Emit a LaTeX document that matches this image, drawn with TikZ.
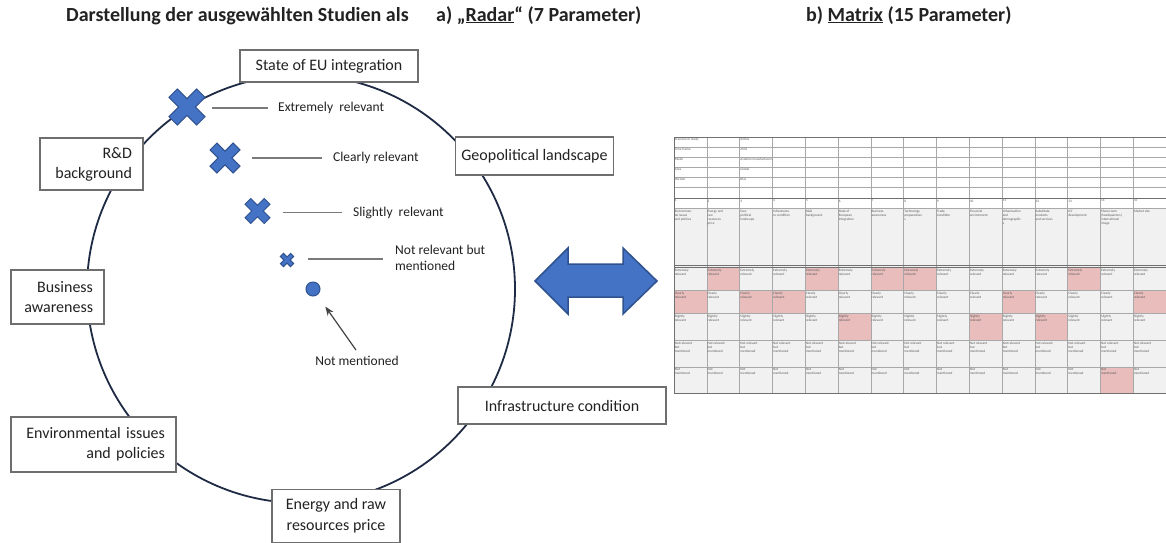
\documentclass[tikz,border=0pt]{standalone}
\usepackage{fontspec}
\setmainfont{Carlito}
\usetikzlibrary{arrows.meta,calc}
\definecolor{xblue}{HTML}{4472C4}
\definecolor{xedge}{HTML}{2F528F}
\definecolor{ring}{HTML}{1F2A44}
\definecolor{boxline}{HTML}{6E6E6E}
\definecolor{txt}{HTML}{222222}
\definecolor{cellpink}{HTML}{E8BDBC}
\definecolor{cellgray}{HTML}{F1F1F1}
\definecolor{gridline}{HTML}{A8A8A8}
\definecolor{gridthick}{HTML}{707070}
\definecolor{leadgray}{HTML}{7A7A7A}
\tikzset{
  xmark/.pic={\filldraw[fill=xblue, draw=xedge, line width=1pt, rotate=45]
    (0.3,1)--(0.3,0.3)--(1,0.3)--(1,-0.3)--(0.3,-0.3)--(0.3,-1)--(-0.3,-1)--(-0.3,-0.3)--(-1,-0.3)--(-1,0.3)--(-0.3,0.3)--(-0.3,1)--cycle;}
}
\begin{document}
\begin{tikzpicture}[x=1pt,y=-1pt,
  box/.style={draw=boxline, line width=1.2pt, fill=white, text=txt,
    font=\fontsize{16}{20}\selectfont, inner ysep=2pt},
  cbox/.style={box, align=center, inner xsep=6pt},
  rbox/.style={box, align=right, inner xsep=11pt},
  title/.style={font=\fontsize{20}{24}\selectfont\bfseries, text=txt, inner sep=0pt},
  small/.style={font=\fontsize{13.5}{16}\selectfont, text=txt, inner sep=0pt},
  leader/.style={draw=leadgray, line width=1.3pt},
  cell/.style={anchor=north west, inner sep=0.6pt, font=\fontsize{3.4}{4}\selectfont, align=left, text=black!65},
  grid/.style={draw=gridline, line width=0.4pt},
  gridbold/.style={draw=gridthick, line width=0.9pt}
]
\useasboundingbox (0,0) rectangle (1166,542);
\fill[white] (0,0) rectangle (1166,542);

% titles
\node[title, anchor=base west] (t1) at (66,21) {Darstellung der ausgewählten Studien als};
\node[title, anchor=base west] (t2) at (436,21) {a) „\underline{Radar}“ (7 Parameter)};
\node[title, anchor=base west] (t3) at (806,21) {b) \underline{Matrix} (15 Parameter)};

% radar circle
\node[circle, draw=ring, line width=1.8pt, minimum size=428pt, inner sep=0pt] (ring) at (301,289) {};

% parameter boxes
\node[cbox, minimum width=178pt, minimum height=32pt] (eu) at (329,66) {State of EU integration};
\node[cbox, minimum width=153pt, minimum height=38pt] (geo) at (534.5,156) {Geopolitical landscape};
\node[rbox, text width=81pt, minimum height=52pt] (rd) at (91.5,164) {R\&D\\background};
\node[rbox, text width=71pt, minimum height=54pt] (bus) at (57.5,297) {Business\\awareness};
\node[rbox, text width=143pt, minimum height=55pt] (env) at (93.5,444.5) {Environmental issues\\and policies};
\node[cbox, minimum width=208pt, minimum height=37pt] (inf) at (562,405.5) {Infrastructure condition};
\node[cbox, minimum width=128pt, minimum height=53pt, font=\fontsize{16}{21}\selectfont] (ene) at (336,516) {Energy and raw\\resources price};

% legend markers
\coordinate (x1) at (187,107);
\coordinate (x2) at (225,158);
\coordinate (x3) at (257.5,211);
\coordinate (x4) at (287,260);
\pic[scale=19.6] at (x1) {xmark};
\pic[scale=16.3] at (x2) {xmark};
\pic[scale=13.6] at (x3) {xmark};
\pic[scale=7.2] at (x4) {xmark};
\node[circle, fill=xblue, draw=xedge, line width=1pt, minimum size=14pt, inner sep=0pt] (dot) at (313,289) {};

\node[small, anchor=west] (l1) at (278,108) {Extremely\ \ relevant};
\node[small, anchor=west] (l2) at (333,158) {Clearly relevant};
\node[small, anchor=west] (l3) at (353,212.5) {Slightly\ \ relevant};
\node[small, anchor=west, align=left] (l4) at (395,258) {Not relevant but\\mentioned};
\node[small] (nm) at (357,361) {Not mentioned};

\draw[leader] ($(x1)+(25,1)$) -- ($(l1.west)+(-10,0)$);
\draw[leader] ($(x2)+(27,0)$) -- ($(l2.west)+(-11,0)$);
\draw[leader] ($(x3)+(25,1.5)$) -- ($(l3.west)+(-11,0)$);
\draw[leader] ($(x4)+(21,-1)$) -- ($(l4.west)+(-12,1)$);
\draw[leader, line width=1.2pt, draw=txt!85, -{Stealth[length=9pt,width=7pt]}, shorten >=14pt]
  ($(nm.north)+(-1,-6)$) -- (dot);

% double arrow
\filldraw[fill=xblue, draw=xedge, line width=1.5pt]
  (535,281) -- (568,248) -- (568,264) -- (623,264) -- (623,248) -- (657,281)
  -- (623,314) -- (623,297) -- (568,297) -- (568,314) -- cycle;

% matrix backgrounds
\fill[cellgray] (674,208) rectangle (1166,393);
\foreach \c/\ya/\yb in {2/267/290,5/267/290,7/267/290,8/267/290,13/267/290,
  1/290/313,3/290/313,4/290/313,11/290/313,15/290/313,
  6/313/340,10/313/340,12/313/340,14/367/393}
  \fill[cellpink] ({674+(\c-1)*32.8},\ya) rectangle ({674+\c*32.8},\yb);
% grid
\foreach \y in {137,147,157,167,177,187,208,290,313,340,367}
  \draw[grid] (674,\y) -- (1166,\y);
\foreach \i in {0,...,15}
  \draw[grid] ({674+\i*32.8},137) -- ({674+\i*32.8},393);
\foreach \y in {198,265,267}
  \draw[gridbold] (674,\y) -- (1166,\y);
\draw[gridbold] (674,137) rectangle (1166,393);

% matrix texts
\node[cell] (m1) at (674,137.5) {Scenario or study};
\node[cell] (m2) at (674,147.5) {Time frame};
\node[cell] (m3) at (674,157.5) {Mode};
\node[cell] (m4) at (674,167.5) {Area};
\node[cell] (m5) at (674,177.5) {Horizon};
\node[cell] (v1) at (739.6,137.5) {Airbus};
\node[cell] (v2) at (739.6,147.5) {2035};
\node[cell] (v3) at (739.6,157.5) {Aviation manufacturers};
\node[cell] (v4) at (739.6,167.5) {Global};
\node[cell] (v5) at (739.6,177.5) {BCG};
\foreach \c in {1,...,15}{
  \node[cell] (n\c) at ({674+(\c-1)*32.8},199) {\c};
  \node[cell] (r1-\c) at ({674+(\c-1)*32.8},268) {Extremely\\relevant};
  \node[cell] (r2-\c) at ({674+(\c-1)*32.8},291) {Clearly\\relevant};
  \node[cell] (r3-\c) at ({674+(\c-1)*32.8},314) {Slightly\\relevant};
  \node[cell] (r4-\c) at ({674+(\c-1)*32.8},341) {Not relevant\\but\\mentioned};
  \node[cell] (r5-\c) at ({674+(\c-1)*32.8},368) {Not\\mentioned};
}
\foreach \c/\t in {1/{Environmen\\tal issues\\and policies},2/{Energy and\\raw\\resources\\price},
  3/{Geo-\\political\\landscape},4/{Infrastructu\\re condition},5/{R\&D\\background},
  6/{State of\\European\\integration},7/{Business\\awareness},8/{Technology\\preparednes\\s},
  9/{Trade\\condition},10/{Financial\\environment},11/{Urbanisation\\and\\demographic\\s},
  12/{Substitute\\products\\and services},13/{ICT\\development},
  14/{Show-room\\(headquarters)\\international\\image},15/{Market size}}
  \node[cell] (h\c) at ({674+(\c-1)*32.8},209) {\t};
\end{tikzpicture}
\end{document}
